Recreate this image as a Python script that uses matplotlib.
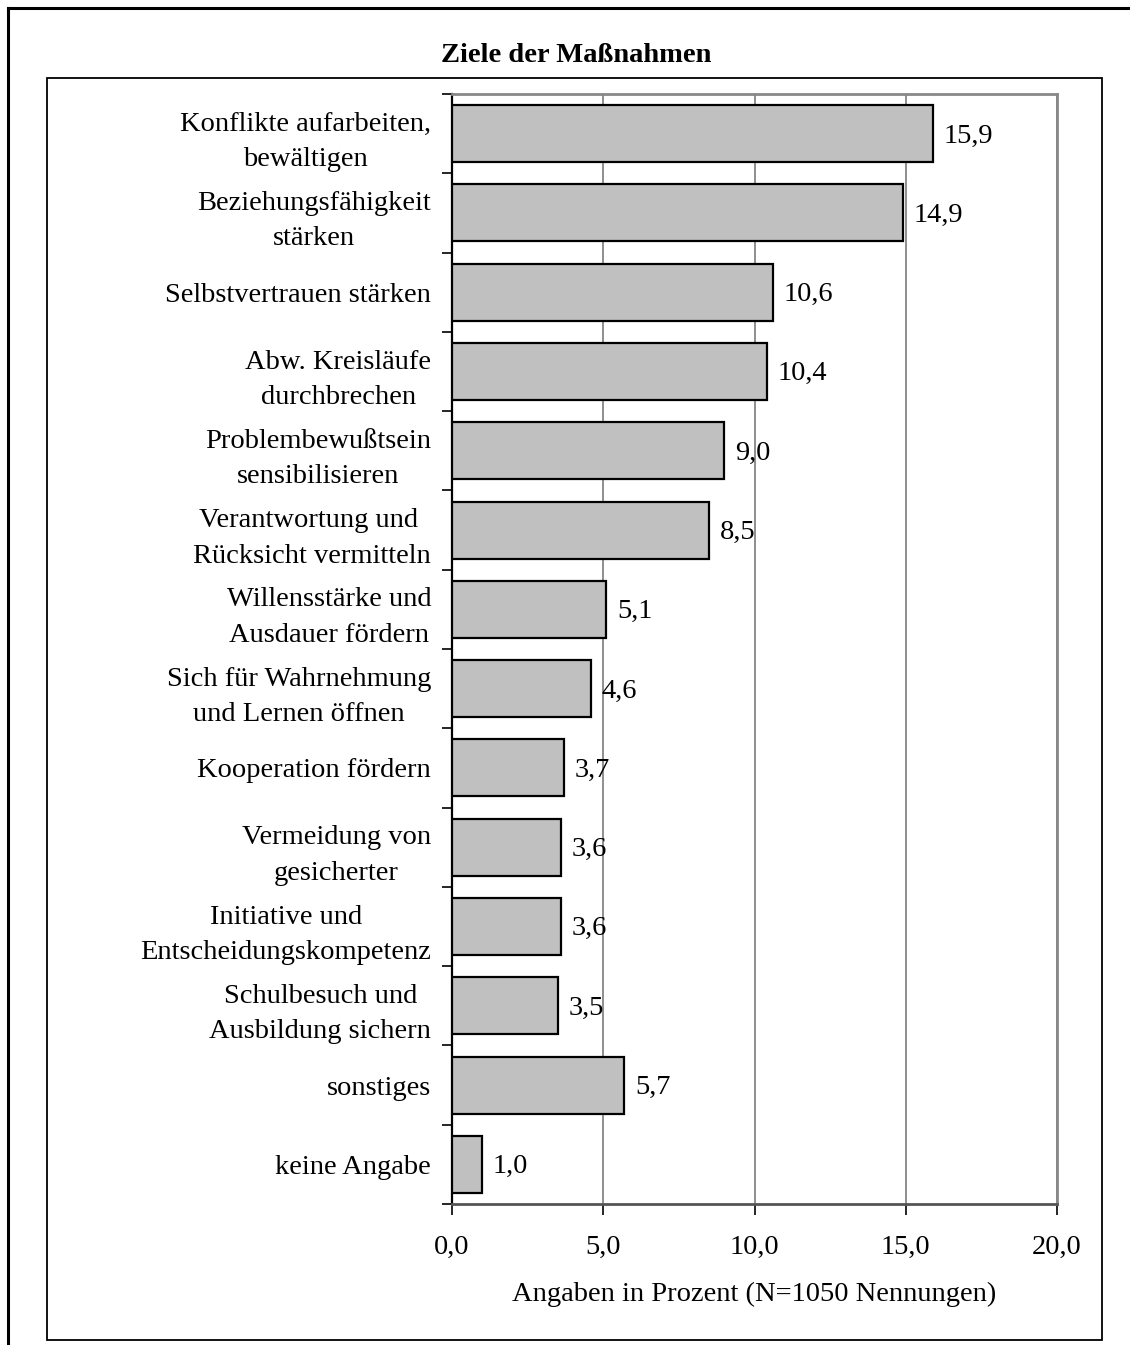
import matplotlib.pyplot as plt
from matplotlib.lines import Line2D
from matplotlib.patches import Rectangle

plt.rcParams['font.family'] = ['Liberation Serif', 'DejaVu Serif']

categories = [
    "Konflikte aufarbeiten,\nbewältigen",
    "Beziehungsfähigkeit\nstärken",
    "Selbstvertrauen stärken",
    "Abw. Kreisläufe\ndurchbrechen",
    "Problembewußtsein\nsensibilisieren",
    "Verantwortung und \nRücksicht vermitteln",
    "Willensstärke und\nAusdauer fördern",
    "Sich für Wahrnehmung\nund Lernen öffnen",
    "Kooperation fördern",
    "Vermeidung von\ngesicherter",
    "Initiative und\nEntscheidungskompetenz",
    "Schulbesuch und\nAusbildung sichern",
    "sonstiges",
    "keine Angabe",
]
values = [15.9, 14.9, 10.6, 10.4, 9.0, 8.5, 5.1, 4.6, 3.7, 3.6, 3.6, 3.5, 5.7, 1.0]
x_ticks = [0, 5, 10, 15, 20]

W, H = 1130, 1345
fig = plt.figure(figsize=(W / 100, H / 100), dpi=100)
fs = 20.5

# page border (top and left only) and chart frame, in pixel units
def px(x, y):
    return x / W, 1 - y / H

fig.add_artist(Line2D([px(8, 0)[0], 1.0], [px(0, 8)[1]] * 2, color='black', lw=2.2))
fig.add_artist(Line2D([px(8, 0)[0]] * 2, [px(0, 8)[1], 0.0], color='black', lw=2.2))
x0, y0 = px(47, 1340)
x1, y1 = px(1102, 78)
fig.add_artist(Rectangle((x0, y0), x1 - x0, y1 - y0, fill=False, edgecolor='black', lw=1.3))

left, right = 452 / W, 1057 / W
top, bottom = 1 - 94 / H, 1 - 1204 / H
ax = fig.add_axes([left, bottom, right - left, top - bottom])

n = len(categories)
pos = list(range(n))
ax.barh(pos, values, height=0.72, color='#c0c0c0', edgecolor='black', linewidth=1.6, zorder=3)
for p, v in zip(pos, values):
    ax.text(v + 0.35, p + 0.03, f"{v:.1f}".replace('.', ','), va='center', ha='left', fontsize=fs, zorder=4)

ax.set_ylim(n - 0.5, -0.5)
ax.set_xlim(0, 20)
ax.set_xticks(x_ticks)
ax.set_xticklabels([f"{t:.1f}".replace('.', ',') for t in x_ticks], fontsize=fs)
ax.set_yticks(pos)
ax.set_yticklabels(categories, fontsize=fs)
for lab in ax.get_yticklabels():
    lab.set_multialignment('center')
    lab.set_linespacing(1.55)

# category boundary ticks on the y axis
ax.set_yticks([p - 0.5 for p in pos] + [n - 0.5], minor=True)
ax.tick_params(axis='y', which='major', length=0, pad=15)
ax.tick_params(axis='y', which='minor', length=7, width=1.2, color='black')
ax.tick_params(axis='x', length=8, width=1.2, pad=14, color='black')

ax.grid(axis='x', color='#707070', lw=1.1, zorder=1)
for side in ['top', 'right']:
    ax.spines[side].set_color('#888888')
    ax.spines[side].set_linewidth(2)
ax.spines['left'].set_color('black')
ax.spines['left'].set_linewidth(1.6)
ax.spines['bottom'].set_color('#555555')
ax.spines['bottom'].set_linewidth(2)

ax.set_xlabel("Angaben in Prozent (N=1050 Nennungen)", fontsize=fs, labelpad=16)
fig.text(576 / W, 1 - 56 / H, "Ziele der Maßnahmen", ha='center', va='center',
         fontsize=fs, fontweight='bold')

fig.savefig("out.png", dpi=100)
